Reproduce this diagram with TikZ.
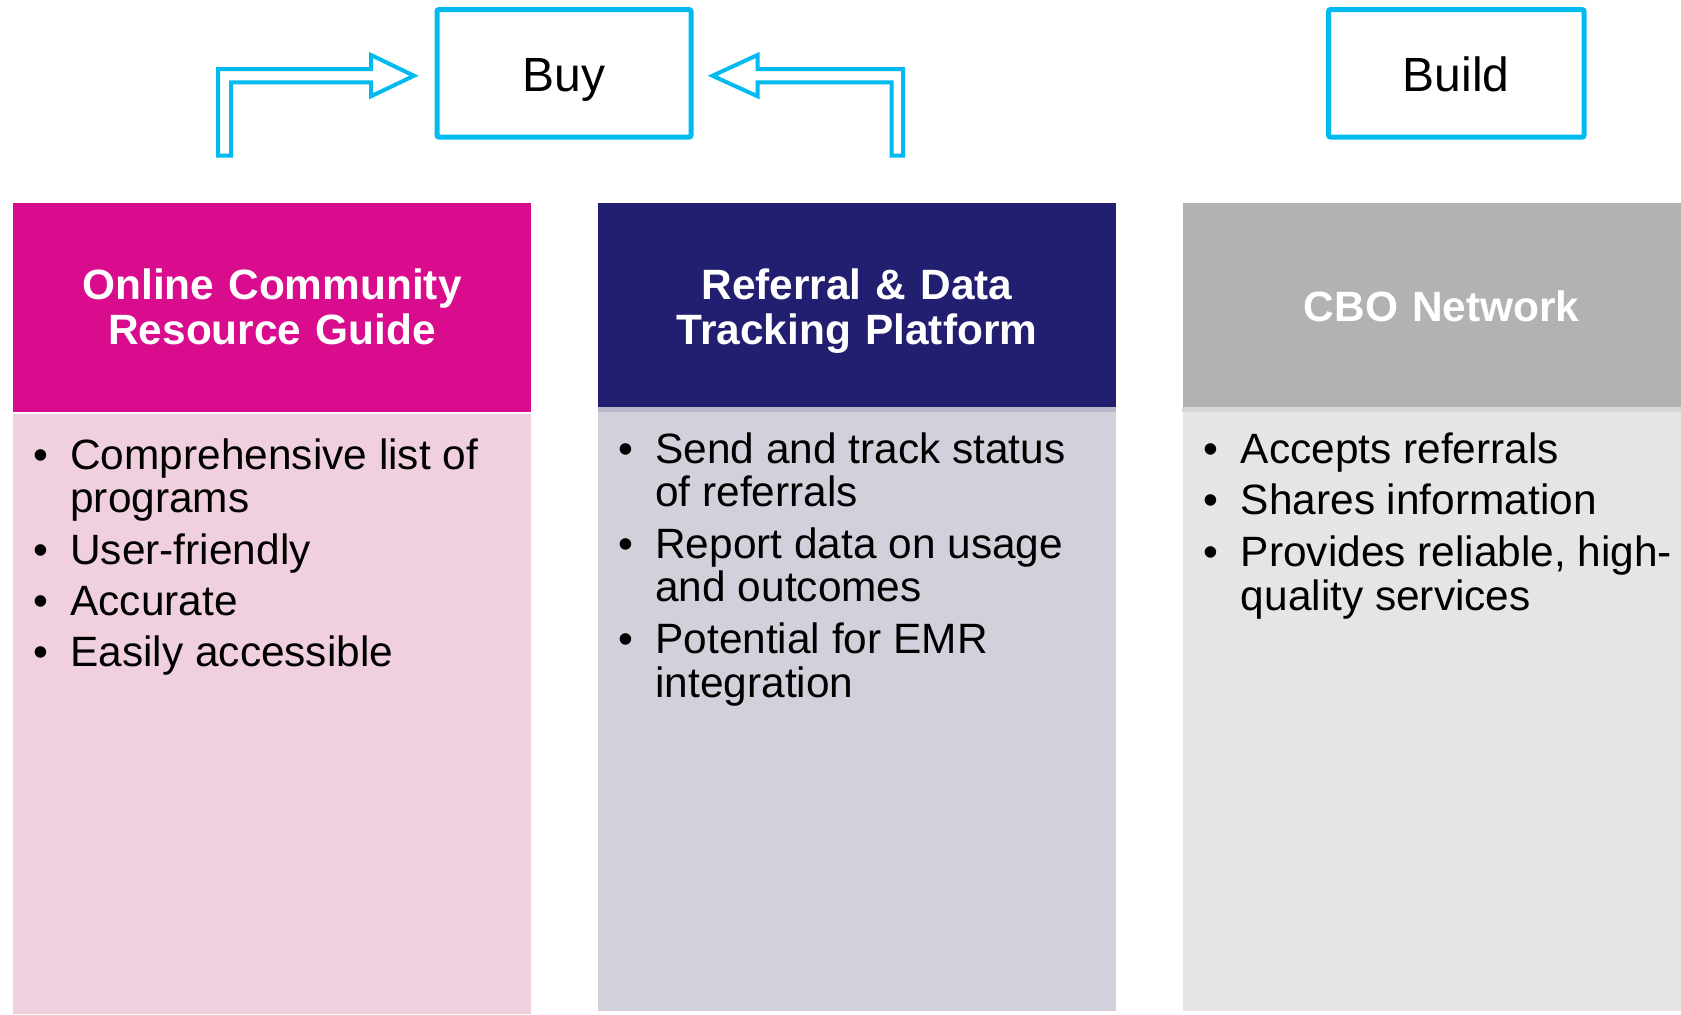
\documentclass[tikz,border=0pt]{standalone}
\usepackage{fontspec}
\setmainfont{Liberation Sans}
\usetikzlibrary{calc}

\definecolor{buycyan}{RGB}{0,186,240}
\definecolor{guidehead}{RGB}{216,12,140}
\definecolor{guidebody}{RGB}{240,208,222}
\definecolor{platformhead}{RGB}{35,31,112}
\definecolor{platformbody}{RGB}{209,209,219}
\definecolor{platformedge}{RGB}{184,184,202}
\definecolor{networkhead}{RGB}{178,178,178}
\definecolor{networkbody}{RGB}{229,229,229}
\definecolor{networkedge}{RGB}{214,214,214}

\begin{document}
\begin{tikzpicture}[x=0.5pt, y=-0.5pt,
  choice/.style={rectangle, draw=buycyan, line width=2.5pt, rounded corners=1pt,
    minimum width=127pt, minimum height=63.75pt, text height=18.4pt, text depth=0pt,
    font=\fontsize{24}{28}\selectfont},
  hollow/.style={draw=buycyan, line width=2pt, line join=miter},
  head/.style={rectangle, minimum width=259pt, inner sep=0pt, anchor=north},
  body/.style={rectangle, minimum width=259pt, inner sep=0pt, anchor=north},
  title/.style={text=white, font=\bfseries\fontsize{21.2}{22.25}\selectfont,
    text width=255pt, align=center, anchor=base, inner sep=0pt},
  points/.style={font=\fontsize{21.2}{21.3}\selectfont, anchor=base west, inner sep=0pt}]

  \useasboundingbox (0,0) rectangle (1681,1014);

  % buy / build choices
  \node[choice] (buy) at (564,73.25) {Buy};
  \node[choice, minimum width=127.8pt] (build) at (1456.3,73.3) {Build};

  % hollow bent arrows pointing at Buy
  \draw[hollow] ($(buy.west)+(-20.5,2.5)$) coordinate (tipL) -- ++(-43,-20.75) -- ++(0,14)
    -- (218,69) -- (218,155.5) -- (231,155.5) -- (231,82.25)
    -- ($(tipL)+(-43,6.5)$) -- ++(0,14) -- cycle;
  \draw[hollow] ($(buy.east)+(19,2.5)$) coordinate (tipR) -- ++(45,-20.75) -- ++(0,14)
    -- (903,69) -- (903,155.5) -- (891.5,155.5) -- (891.5,82.25)
    -- ($(tipR)+(45,6.5)$) -- ++(0,14) -- cycle;

  % resource guide column
  \node[head, fill=guidehead, minimum height=104.5pt] (guide) at (272,202.7) {};
  \node[body, fill=guidebody, minimum height=300pt] (guidebox) at (272,414) {};
  \node[title] (guidetitle) at (272,299.5) {Online Community\\Resource Guide};
  \node[points] (guidepoints) at (33,469.5) {\begin{tabular}[t]{@{}p{18.5pt}@{}l@{}}
    \textbullet & Comprehensive list of\\
                & programs\\[4.2pt]
    \textbullet & User-friendly\\[4.2pt]
    \textbullet & Accurate\\[4.2pt]
    \textbullet & Easily accessible
  \end{tabular}};

  % referral platform column
  \node[head, fill=platformhead, minimum height=102.3pt] (platform) at (857,202.7) {};
  \node[body, fill=platformbody, minimum height=301.85pt] (platformbox) at (857,407.3) {};
  \fill[platformedge] (platformbox.north west) rectangle ($(platformbox.north east)+(0,4.5)$);
  \node[title] (platformtitle) at (857,299.5) {Referral \& Data\\Tracking Platform};
  \node[points] (platformpoints) at (618,463) {\begin{tabular}[t]{@{}p{18.5pt}@{}l@{}}
    \textbullet & Send and track status\\
                & of referrals\\[4.2pt]
    \textbullet & Report data on usage\\
                & and outcomes\\[4.2pt]
    \textbullet & Potential for EMR\\
                & integration
  \end{tabular}};

  % CBO network column (runs past the right edge)
  \node[head, fill=networkhead, minimum height=102.3pt] (network) at (1441.7,202.7) {};
  \node[body, fill=networkbody, minimum height=301.85pt] (networkbox) at (1441.7,407.3) {};
  \fill[networkedge] (networkbox.north west) rectangle ($(networkbox.north east)+(0,4.5)$);
  \node[title] (networktitle) at (1441.7,321) {CBO Network};
  \node[points] (networkpoints) at (1203.5,463) {\begin{tabular}[t]{@{}p{18.5pt}@{}l@{}}
    \textbullet & Accepts referrals\\[4.2pt]
    \textbullet & Shares information\\[4.2pt]
    \textbullet & Provides reliable, high-\\
                & quality services
  \end{tabular}};
\end{tikzpicture}
\end{document}
